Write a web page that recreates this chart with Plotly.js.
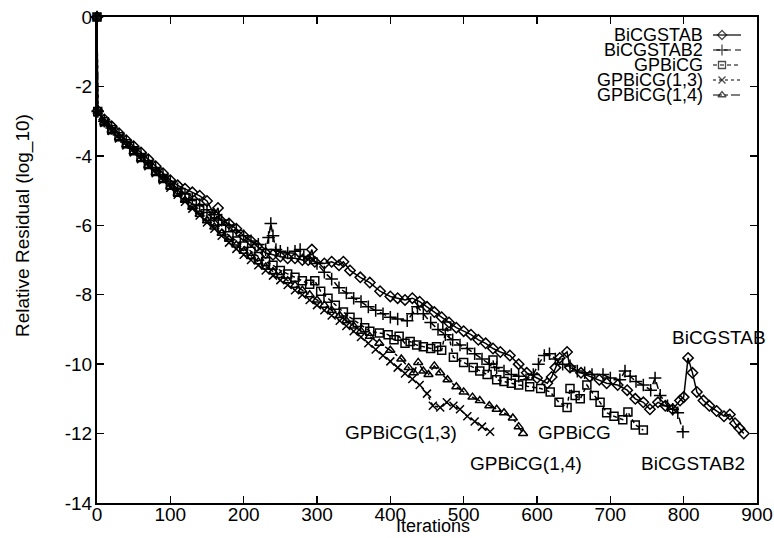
<!DOCTYPE html>
<html>
<head>
<meta charset="utf-8">
<script src="https://cdn.plot.ly/plotly-3.0.1.min.js"></script>
<style>html,body{margin:0;padding:0;background:#fff}#chart{width:774px;height:538px}</style>
</head>
<body>
<div id="chart"></div>
<script>
// ---- data (iterations, log10 relative residual) ----
const seriesNames = ["BiCGSTAB", "BiCGSTAB2", "GPBiCG", "GPBiCG(1,3)", "GPBiCG(1,4)"];

const itBiCGSTAB = [0,1,10,20,30,40,50,60,70,80,90,100,110,120,130,140,150,160,165,168,180,190,200,210,218,230,240,250,260,270,280,288,293,297,310,320,330,336,345,359,372,386,400,410,420,430,440,450,460,470,480,490,500,510,520,530,540,550,563,575,586,600,614,620,625,631,641,645,660,672,685,695,710,723,734,745,754,765,775,785,795,800,806,812,818,827,835,845,855,863,870,876,882];
const resBiCGSTAB = [0,-2.7,-2.95,-3.15,-3.35,-3.55,-3.72,-3.9,-4.1,-4.3,-4.5,-4.7,-4.85,-4.95,-5.05,-5.15,-5.3,-5.7,-5.5,-5.85,-5.95,-6.1,-6.3,-6.45,-6.6,-6.8,-6.85,-6.9,-6.95,-6.95,-7.0,-7.0,-6.7,-7.05,-7.1,-7.05,-7.15,-7.05,-7.3,-7.5,-7.65,-7.9,-8.05,-8.1,-8.15,-8.1,-8.2,-8.35,-8.5,-8.65,-8.8,-8.95,-9.05,-9.15,-9.3,-9.4,-9.55,-9.65,-9.75,-10.0,-10.25,-10.4,-10.55,-10.37,-10.1,-9.82,-9.65,-10.1,-10.25,-10.35,-10.45,-10.55,-10.6,-10.75,-11.0,-11.1,-11.3,-11.1,-11.2,-11.3,-11.05,-10.95,-9.82,-10.25,-10.8,-11.05,-11.2,-11.35,-11.5,-11.45,-11.7,-11.85,-12.0];

const itBiCGSTAB2 = [0,1,10,20,30,40,50,60,70,80,90,100,110,120,130,140,150,160,170,180,190,200,210,220,230,234,237,240,244,250,260,270,277,282,290,300,310,320,330,340,350,360,370,380,390,400,410,423,430,437,445,455,465,475,485,495,505,515,525,535,545,555,565,575,585,595,602,610,617,625,635,645,655,665,675,690,700,713,720,727,735,745,755,761,768,778,785,792,799];
const resBiCGSTAB2 = [0,-2.72,-3.0,-3.2,-3.4,-3.6,-3.78,-3.95,-4.15,-4.35,-4.55,-4.75,-4.95,-5.1,-5.25,-5.4,-5.55,-5.7,-5.85,-6.0,-6.15,-6.3,-6.45,-6.55,-6.7,-6.35,-5.95,-6.3,-6.7,-6.75,-6.8,-6.75,-6.7,-6.9,-6.95,-7.1,-7.35,-7.55,-7.8,-7.95,-8.1,-8.2,-8.35,-8.45,-8.55,-8.65,-8.7,-8.75,-8.55,-8.35,-8.55,-8.8,-9.0,-9.15,-9.3,-9.45,-9.55,-9.7,-9.85,-10.0,-10.1,-10.2,-10.3,-10.35,-10.45,-10.3,-10.0,-9.75,-9.7,-9.85,-10.0,-10.05,-10.2,-10.25,-10.3,-10.3,-10.4,-10.45,-10.2,-10.35,-10.5,-10.6,-10.75,-10.4,-10.9,-11.2,-11.3,-11.4,-11.95];

const itGPBiCG = [0,1,10,20,30,40,50,60,70,80,90,100,110,120,130,140,150,160,170,180,190,200,210,220,230,240,250,260,270,280,290,297,305,315,325,336,345,355,365,372,385,397,405,412,420,427,436,445,455,463,470,477,486,500,513,522,532,540,545,555,565,575,590,605,618,630,641,645,652,659,668,678,686,695,705,717,724,734,745];
const resGPBiCG = [0,-2.72,-3.02,-3.25,-3.45,-3.65,-3.85,-4.05,-4.25,-4.45,-4.65,-4.85,-5.05,-5.2,-5.4,-5.55,-5.75,-5.9,-6.1,-6.3,-6.45,-6.6,-6.75,-6.9,-7.05,-7.15,-7.3,-7.4,-7.5,-7.6,-7.7,-7.6,-7.9,-8.1,-8.3,-8.5,-8.65,-8.8,-8.95,-9.05,-9.1,-9.15,-9.3,-9.2,-9.4,-9.35,-9.45,-9.5,-9.55,-9.5,-9.6,-8.9,-9.8,-9.95,-10.1,-10.2,-10.3,-9.88,-10.45,-10.5,-10.55,-10.6,-10.65,-10.7,-10.8,-11.1,-11.25,-10.7,-10.9,-11.0,-10.6,-10.9,-11.1,-11.4,-11.5,-11.6,-11.38,-11.75,-11.9];

const itGPBiCG13 = [0,1,10,20,30,40,50,60,70,80,90,100,110,120,130,140,150,160,170,180,190,200,210,220,230,240,250,260,270,280,290,300,310,320,331,340,350,360,370,380,390,400,410,420,430,440,450,458,468,477,486,495,505,515,525,536];
const resGPBiCG13 = [0,-2.75,-3.05,-3.28,-3.5,-3.7,-3.9,-4.1,-4.3,-4.5,-4.7,-4.92,-5.12,-5.32,-5.52,-5.72,-5.92,-6.1,-6.3,-6.5,-6.68,-6.85,-7.0,-7.15,-7.3,-7.45,-7.58,-7.72,-7.87,-8.0,-8.15,-8.3,-8.45,-8.6,-8.75,-8.9,-9.05,-9.22,-9.4,-9.58,-9.75,-9.92,-10.1,-10.27,-10.43,-10.6,-10.85,-11.2,-11.25,-11.1,-11.2,-11.3,-11.5,-11.65,-11.8,-11.95];

const itGPBiCG14 = [0,1,10,20,30,40,50,60,70,80,90,100,110,120,130,140,150,160,170,180,190,200,210,220,230,240,250,260,270,280,290,300,310,320,331,340,350,360,372,385,400,415,425,432,438,445,452,460,468,478,490,500,512,522,535,545,555,567,575,581];
const resGPBiCG14 = [0,-2.73,-3.03,-3.26,-3.47,-3.68,-3.88,-4.08,-4.28,-4.48,-4.68,-4.88,-5.08,-5.28,-5.48,-5.68,-5.87,-6.05,-6.23,-6.4,-6.57,-6.75,-6.9,-7.05,-7.2,-7.33,-7.45,-7.6,-7.73,-7.87,-8.0,-8.15,-8.3,-8.45,-8.6,-8.75,-8.9,-9.05,-9.2,-9.4,-9.6,-9.85,-10.1,-10.25,-9.95,-10.2,-10.3,-10.05,-10.25,-10.45,-10.65,-10.8,-10.95,-11.05,-11.2,-11.3,-11.4,-11.55,-11.8,-12.0];

const xTickVals = [0,100,200,300,400,500,600,700,800,900];
const yTickVals = [0,-2,-4,-6,-8,-10,-12,-14];

// ---- styling ----
const FONT = "Liberation Sans, Arial, Helvetica, sans-serif";
const styles = [
  {symbol: "diamond-open", size: 8, dash: "solid"},
  {symbol: "cross-thin-open", size: 9, dash: "7px,4px"},
  {symbol: "square-open", size: 8, dash: "4px,3px"},
  {symbol: "x-thin-open", size: 8, dash: "dot"},
  {symbol: "triangle-up-open", size: 8, dash: "dashdot"}
];
const xs = [itBiCGSTAB, itBiCGSTAB2, itGPBiCG, itGPBiCG13, itGPBiCG14];
const ys = [resBiCGSTAB, resBiCGSTAB2, resGPBiCG, resGPBiCG13, resGPBiCG14];

// plot area in pixels
const L = 97, R = 757, T = 17, B = 503;
const px = v => (v - L) / (R - L);
const py = v => (B - v) / (B - T);

const traces = [];
for (let i = 0; i < 5; i++) {
  traces.push({
    x: xs[i], y: ys[i], type: "scatter", mode: "lines+markers", name: seriesNames[i],
    line: {color: "#000", width: 1.5, dash: styles[i].dash},
    marker: {symbol: styles[i].symbol, size: styles[i].size, color: "#000", line: {color: "#000", width: 1.5}},
    cliponaxis: false, showlegend: false, hoverinfo: "skip"
  });
}
// legend samples (pixel-coordinate overlay axes)
const legRows = [35, 50, 65, 80, 95];
for (let i = 0; i < 5; i++) {
  traces.push({
    x: [713, 722, 741], y: [legRows[i], legRows[i], legRows[i]], xaxis: "x2", yaxis: "y2",
    type: "scatter", mode: "lines+markers",
    line: {color: "#000", width: 1.2, dash: styles[i].dash},
    marker: {symbol: styles[i].symbol, size: [0, styles[i].size - 1, 0], color: "#000", line: {color: "#000", width: 1.3}},
    showlegend: false, hoverinfo: "skip", cliponaxis: false
  });
}

const ann = [];
for (let i = 0; i < 5; i++) {
  ann.push({xref: "paper", yref: "paper", x: px(704), y: py(legRows[i]), xanchor: "right", yanchor: "middle",
    text: seriesNames[i], showarrow: false, borderpad: 0, font: {family: FONT, size: 18, color: "#000"}});
}
const labels = [
  {t: "BiCGSTAB", x: 719, y: 337},
  {t: "GPBiCG(1,3)", x: 401, y: 432},
  {t: "GPBiCG", x: 574, y: 432},
  {t: "GPBiCG(1,4)", x: 526, y: 463},
  {t: "BiCGSTAB2", x: 693, y: 463}
];
labels.forEach(l => ann.push({xref: "paper", yref: "paper", x: px(l.x), y: py(l.y), xanchor: "center", yanchor: "middle",
  text: l.t, showarrow: false, font: {family: FONT, size: 19, color: "#000"}}));
ann.push({xref: "paper", yref: "paper", x: px(433), y: py(526), xanchor: "center", yanchor: "middle",
  text: "Iterations", showarrow: false, borderpad: 0, font: {family: FONT, size: 18, color: "#000"}});
ann.push({xref: "paper", yref: "paper", x: px(23), y: py(226), xanchor: "center", yanchor: "middle", textangle: -90,
  text: "Relative Residual (log_10)", showarrow: false, font: {family: FONT, size: 19, color: "#000"}});

const axisCommon = {
  showgrid: false, zeroline: false, showline: true, linecolor: "#000", linewidth: 2,
  mirror: "ticks", ticks: "inside", ticklen: 7, tickwidth: 1.5, tickcolor: "#000",
  tickfont: {family: FONT, size: 19, color: "#000"}, fixedrange: true
};

const layout = {
  width: 774, height: 538,
  margin: {l: L, r: 774 - R, t: T, b: 538 - B},
  paper_bgcolor: "#fff", plot_bgcolor: "#fff",
  showlegend: false,
  xaxis: Object.assign({}, axisCommon, {range: [0, 900], tickvals: xTickVals, ticktext: xTickVals.map(String), ticklabelstandoff: -7}),
  yaxis: Object.assign({}, axisCommon, {range: [-14, 0], tickvals: yTickVals, ticktext: yTickVals.map(String), ticklabelstandoff: -1}),
  xaxis2: {overlaying: "x", range: [L, R], visible: false, fixedrange: true},
  yaxis2: {overlaying: "y", range: [B, T], visible: false, fixedrange: true},
  annotations: ann,
  font: {family: FONT, color: "#000"}
};

Plotly.newPlot("chart", traces, layout, {staticPlot: true, displayModeBar: false});
</script>
</body>
</html>
